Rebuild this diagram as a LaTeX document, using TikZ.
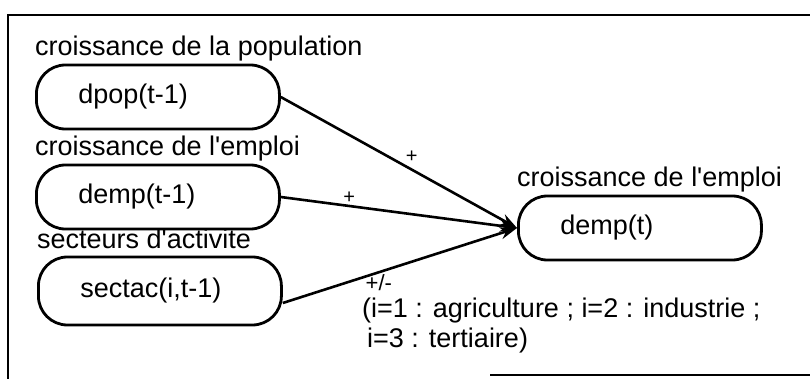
\documentclass[tikz,border=0pt]{standalone}
\usepackage{fontspec}
\setmainfont{Liberation Sans}
\usetikzlibrary{arrows.meta}
\usetikzlibrary{positioning}

\begin{document}
\begin{tikzpicture}[x=1pt,y=-1pt] % one unit = one pixel of the scan, y downwards
	\tikzset{var/.style={draw,line width=2.8pt,rounded corners=29pt,minimum height=64pt,text width=159pt,inner xsep=42pt,inner ysep=0pt,align=left,font=\fontsize{27}{30}\selectfont},
		lbl/.style={inner sep=0pt,font=\fontsize{27}{30}\selectfont},
		sgn/.style={inner sep=1pt,font=\fontsize{20}{24}\selectfont},
		lien/.style={line width=2.6pt,-{Stealth[length=17pt,width=12pt]}}}
	
	% Page size
	\useasboundingbox (0,0) rectangle (810,379);
	
	% Frame (right side is cut off on the scan)
	\draw[line width=1.8pt] (810,15) -- (8,15) -- (8,379);
	\draw[line width=1.8pt] (490,375) -- (810,375);
	
	% Variables at time t-1
	\node[var,anchor=west] (dpop) at (35,97) {dpop(t-1)};
	\node[var,anchor=west] (dempA) at (35,197) {demp(t-1)};
	\node[var,anchor=west,minimum height=68pt] (sectac) at (37,291) {sectac(i,t-1)};
	
	% Variable at time t
	\node[var,anchor=west] (demp) at (517,228) {demp(t)};
	
	% Titles above the boxes
	\node[lbl,above=8pt of dpop.north west,anchor=base west] (tpop) {croissance de la population};
	\node[lbl,above=8pt of dempA.north west,anchor=base west] (tempA) {croissance de l\textquotesingle emploi};
	\node[lbl,above=7pt of sectac.north west,anchor=base west] (tsect) {secteurs d\textquotesingle activite};
	\node[lbl,above=8pt of demp.north west,anchor=base west] (temp) {croissance de l\textquotesingle emploi};
	
	% Links
	\draw[lien] (dpop.east) -- node[sgn,above right,pos=0.52]{+} (demp.west);
	\draw[lien] (dempA.east) -- node[sgn,above,pos=0.29]{+} (demp.west);
	\draw[lien] ([yshift=-12pt]sectac.east) -- node[sgn,below,pos=0.41,font=\fontsize{22}{24}\selectfont]{+/-} (demp.west);
	
	% Note on the sectors
	\node[lbl,anchor=north west,align=left] (note) at (362,298) {(i=1 : agriculture ; i=2 : industrie ;\\\hspace*{5pt}i=3 : tertiaire)};
	
\end{tikzpicture}
\end{document}
